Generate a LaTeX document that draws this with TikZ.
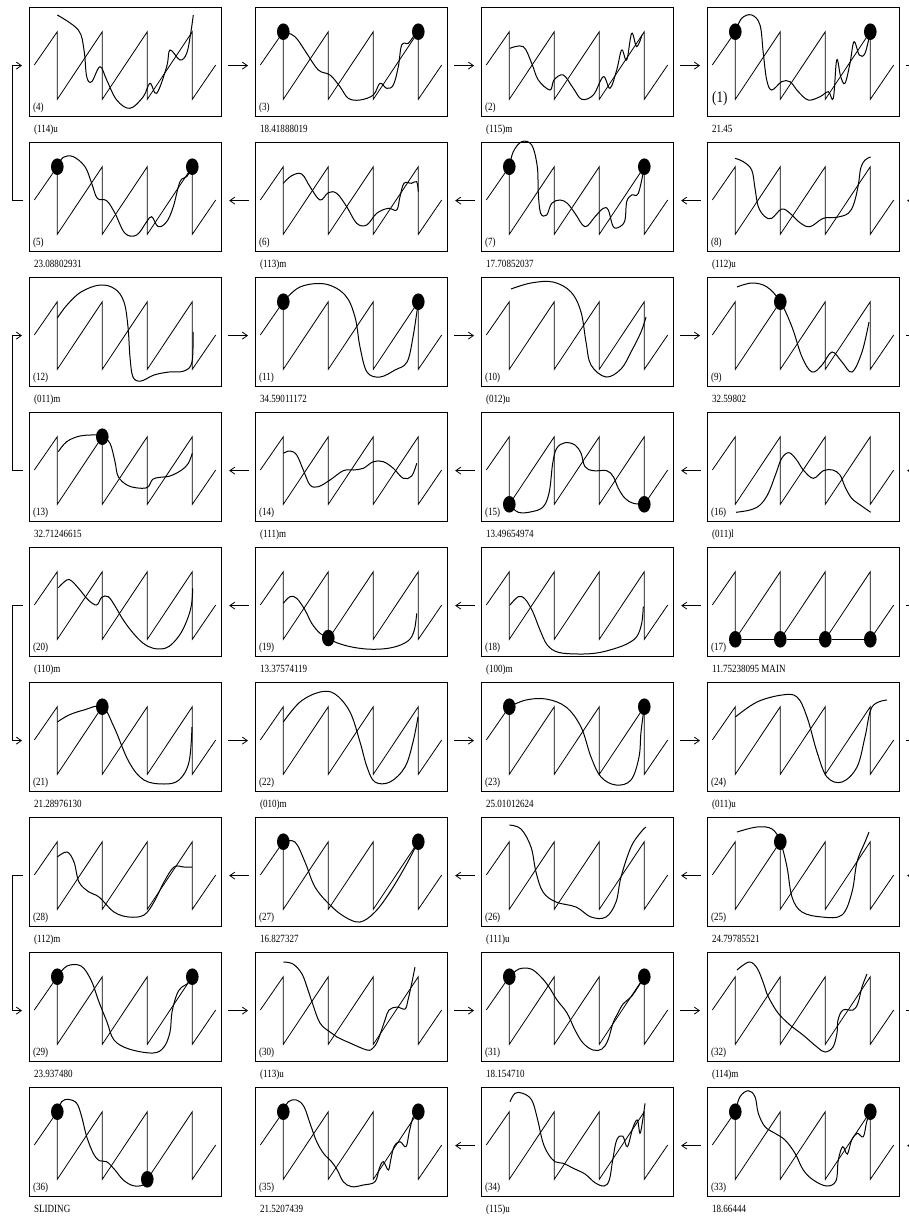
\documentclass[tikz,border=0pt]{standalone}
\usepackage{fontspec}
\setmainfont{Liberation Serif}[FakeStretch=0.82]
\usetikzlibrary{arrows.meta, shapes.geometric}

\begin{document}
\begin{tikzpicture}[
    x=1pt, y=-1pt,
    font=\fontsize{11}{12}\selectfont,
    panel/.style={draw, line width=1.2pt, anchor=north west, minimum width=192pt,
                  minimum height=109pt, inner sep=0pt},
    sawline/.style={line width=0.8pt},
    squig/.style={line width=1pt, smooth, tension=0.6},
    bead/.style={ellipse, fill=black, inner sep=0pt, minimum width=12.6pt, minimum height=16.6pt},
    tag/.style={anchor=base west, inner sep=0pt},
    capt/.style={anchor=base west, inner sep=0pt},
    ar/.style={-{Straight Barb[length=5pt,width=7pt]}, line width=0.8pt,
               shorten <=6pt, shorten >=7pt},
    link/.style={line width=0.8pt, shorten <=6pt},
    saw/.pic={\draw[sawline] (5.3,58) -- (28.3,24.7) -- (28.3,92.3) -- (73.3,24.7) -- (73.3,92.3)
              -- (118.3,24.7) -- (118.3,92.3) -- (163.3,24.7) -- (163.3,92.3) -- (186.7,58);},
  ]
  \path[use as bounding box, fill=white] (0,0) rectangle (908,1218);

  % ---------------- row 1
  \begin{scope}[shift={(29,7)}]
    \node[panel] (p4) at (0,0) {};
    \pic {saw};
    \node[tag] (n4) at (4,103) {(4)};
    \node[capt] (c4) at (5,125) {(114)u};
    \draw[squig] plot coordinates {(28.3,8) (49.3,23) (55,43) (57.7,69.7) (62.7,74.7) (71,59.7)
      (77.7,73) (87.7,93) (101,101.3) (114.3,89.7) (121,76.3) (127.7,86.3) (137.7,59.7) (141,43)
      (151,53) (157.7,46.3) (161.7,26.3) (164.3,8)};
  \end{scope}
  \begin{scope}[shift={(255,7)}]
    \node[panel] (p3) at (0,0) {};
    \pic {saw};
    \node[tag] (n3) at (4,103) {(3)};
    \node[capt] (c3) at (5,125) {18.41888019};
    \draw[squig] plot coordinates {(28.3,24.7) (40,29.7) (51.7,46.3) (63.3,63) (75,68) (85,79.7)
      (93.3,91.3) (105,93) (118.3,88) (125,76.3) (131.7,81.3) (138.3,78) (143.3,59.7) (146.7,38)
      (153.3,36.3) (158.3,29.7) (163.3,24.7)};
    \node[bead] (d3a) at (28.3,24.7) {};
    \node[bead] (d3b) at (163.3,24.7) {};
  \end{scope}
  \begin{scope}[shift={(481,7)}]
    \node[panel] (p2) at (0,0) {};
    \pic {saw};
    \node[tag] (n2) at (4,103) {(2)};
    \node[capt] (c2) at (5,125) {(115)m};
    \draw[squig] plot coordinates {(29,41.3) (42.3,39.7) (50.7,56.3) (57.3,73) (69,83) (73,73)
      (82.3,68) (92.3,81.3) (100.7,92.3) (112.3,88) (122.3,69.7) (129,81.3) (135.7,63) (140.7,43)
      (145.7,53) (150.7,26.3) (155.7,39.7) (161,28)};
  \end{scope}
  \begin{scope}[shift={(707,7)}]
    \node[panel] (p1) at (0,0) {};
    \pic {saw};
    \node[tag, font=\fontsize{16}{18}\selectfont] (n1) at (5,95) {(1)};
    \node[capt] (c1) at (5,125) {21.45};
    \draw[squig] plot coordinates {(28.3,24.7) (34.7,11.3) (44.7,8) (53,18) (56.3,46.3) (59.7,73)
      (64.7,83) (74.7,74.7) (83,74.7) (91.3,84.7) (101.3,93) (113,89.7) (121.3,84.7) (126.3,91.3)
      (129.7,53) (133.7,69.7) (138,76.3) (143,56.3) (147,34.7) (152.3,48) (158,46.3) (163.3,24.7)};
    \node[bead] (d1a) at (28.3,24.7) {};
    \node[bead] (d1b) at (163.3,24.7) {};
  \end{scope}

  % ---------------- row 2
  \begin{scope}[shift={(29,142)}]
    \node[panel] (p5) at (0,0) {};
    \pic {saw};
    \node[tag] (n5) at (4,103) {(5)};
    \node[capt] (c5) at (5,125) {23.08802931};
    \draw[squig] plot coordinates {(28.3,24.7) (34.3,15.3) (44.3,14.7) (56,24.7) (62.7,41.3)
      (68.3,56.3) (77.7,58.7) (86,71.3) (96,91.3) (107.7,93) (117.7,79.7) (122.7,74.7) (129.3,84.7)
      (137.7,79.7) (144.3,64.7) (151,39.7) (157.7,34.7) (163.3,24.7)};
    \node[bead] (d5a) at (28.3,24.7) {};
    \node[bead] (d5b) at (163.3,24.7) {};
  \end{scope}
  \begin{scope}[shift={(255,142)}]
    \node[panel] (p6) at (0,0) {};
    \pic {saw};
    \node[tag] (n6) at (4,103) {(6)};
    \node[capt] (c6) at (5,125) {(113)m};
    \draw[squig] plot coordinates {(28.3,41.3) (36.7,33.7) (46.7,32) (55,44.7) (65,58) (73.3,50.7)
      (81.7,51.3) (91.7,64.7) (101.7,81.3) (111.7,83) (121.7,71.3) (133.3,66.3) (141.7,68) (145,54.7)
      (149,41.3) (156.7,41.3) (161.7,39.7) (163.3,49.7)};
  \end{scope}
  \begin{scope}[shift={(481,142)}]
    \node[panel] (p7) at (0,0) {};
    \pic {saw};
    \node[tag] (n7) at (4,103) {(7)};
    \node[capt] (c7) at (5,125) {17.70852037};
    \draw[squig] plot coordinates {(28.3,24.7) (32.3,9.7) (40.7,-0.3) (50.7,3) (56.3,24.7)
      (57.3,51.3) (59.7,71.3) (65.7,73) (70.7,61.3) (79,58) (86.3,61.3) (94,71.3) (104,84.7)
      (114,74.7) (122.3,66.3) (127.3,68) (132.3,84.7) (139,84.7) (144,78) (145.7,59.7) (150.7,53)
      (157.3,51.3) (163.3,24.7)};
    \node[bead] (d7a) at (28.3,24.7) {};
    \node[bead] (d7b) at (163.3,24.7) {};
  \end{scope}
  \begin{scope}[shift={(707,142)}]
    \node[panel] (p8) at (0,0) {};
    \pic {saw};
    \node[tag] (n8) at (4,103) {(8)};
    \node[capt] (c8) at (5,125) {(112)u};
    \draw[squig] plot coordinates {(28,16.3) (36.3,19.7) (44.7,28) (48,46.3) (51.3,64.7) (58,74.7)
      (64.7,76.3) (74.7,67) (83,71.3) (93,80.7) (103,84.7) (116.3,76.3) (129.7,75.3) (141.3,71.3)
      (147,61.3) (151.3,43) (153.7,26.3) (158,18) (163.7,15)};
  \end{scope}

  % ---------------- row 3
  \begin{scope}[shift={(29,277)}]
    \node[panel] (p12) at (0,0) {};
    \pic {saw};
    \node[tag] (n12) at (4,103) {(12)};
    \node[capt] (c12) at (5,125) {(011)m};
    \draw[squig] plot coordinates {(28.3,41) (38,28) (52,15) (71,8) (86,12) (95,25) (99,50)
      (101,80) (104,100) (112,104) (125,98) (140,95) (155,94) (163,85) (164,55)};
  \end{scope}
  \begin{scope}[shift={(255,277)}]
    \node[panel] (p11) at (0,0) {};
    \pic {saw};
    \node[tag] (n11) at (4,103) {(11)};
    \node[capt] (c11) at (5,125) {34.59011172};
    \draw[squig] plot coordinates {(28.3,24.7) (45,10) (70,7) (90,18) (100,40) (105,70) (112,95)
      (125,100) (140,93) (152,85) (158,60) (163.3,24.7)};
    \node[bead] (d11a) at (28.3,24.7) {};
    \node[bead] (d11b) at (163.3,24.7) {};
  \end{scope}
  \begin{scope}[shift={(481,277)}]
    \node[panel] (p10) at (0,0) {};
    \pic {saw};
    \node[tag] (n10) at (4,103) {(10)};
    \node[capt] (c10) at (5,125) {(012)u};
    \draw[squig] plot coordinates {(30,12) (50,6) (72,5) (90,15) (100,35) (105,65) (110,88)
      (125,100) (140,92) (150,75) (160,55) (165,40)};
  \end{scope}
  \begin{scope}[shift={(707,277)}]
    \node[panel] (p9) at (0,0) {};
    \pic {saw};
    \node[tag] (n9) at (4,103) {(9)};
    \node[capt] (c9) at (5,125) {32.59802};
    \draw[squig] plot coordinates {(30,10) (45,6) (60,10) (73.3,24.7) (85,50) (95,80) (105,95)
      (115,88) (125,75) (135,85) (145,95) (155,75) (162,45)};
    \node[bead] (d9a) at (73.3,24.7) {};
  \end{scope}

  % ---------------- row 4
  \begin{scope}[shift={(29,412)}]
    \node[panel] (p13) at (0,0) {};
    \pic {saw};
    \node[tag] (n13) at (4,103) {(13)};
    \node[capt] (c13) at (5,125) {32.71246615};
    \draw[squig] plot coordinates {(29.3,39.7) (37.7,29.7) (51,24) (67.7,23) (73.3,24.7) (81,31.3)
      (86,49.7) (89.3,64.7) (99.3,73.7) (112.7,76.3) (119.3,74.7) (123.7,67.3) (131,65.3) (141,64)
      (152.7,58) (159.3,51.3) (163.3,41.3)};
    \node[bead] (d13a) at (73.3,24.7) {};
  \end{scope}
  \begin{scope}[shift={(255,412)}]
    \node[panel] (p14) at (0,0) {};
    \pic {saw};
    \node[tag] (n14) at (4,103) {(14)};
    \node[capt] (c14) at (5,125) {(111)m};
    \draw[squig] plot coordinates {(28.3,41.3) (35,39) (41.7,43) (48.3,58) (55,73) (63.3,74.7)
      (75,68) (88.3,58.7) (98.3,58) (108.3,56.3) (118.3,49.7) (128.3,49.7) (138.3,56.3) (148.3,66.3)
      (156.7,64) (161.7,51.3)};
  \end{scope}
  \begin{scope}[shift={(481,412)}]
    \node[panel] (p15) at (0,0) {};
    \pic {saw};
    \node[tag] (n15) at (4,103) {(15)};
    \node[capt] (c15) at (5,125) {13.49654974};
    \draw[squig] plot coordinates {(28.3,92.3) (37.3,100.3) (50.7,99.7) (62.3,94.7) (68.3,79.7)
      (71.7,51.3) (75.7,36.3) (84,30.7) (94,33) (100,41.3) (104,54.7) (112.3,58.7) (125.7,58.7)
      (132.3,64.7) (137.3,76.3) (144,86.3) (152.3,91.3) (163.3,92.3)};
    \node[bead] (d15a) at (28.3,92.3) {};
    \node[bead] (d15b) at (163.3,92.3) {};
  \end{scope}
  \begin{scope}[shift={(707,412)}]
    \node[panel] (p16) at (0,0) {};
    \pic {saw};
    \node[tag] (n16) at (4,103) {(16)};
    \node[capt] (c16) at (5,125) {(011)l};
    \draw[squig] plot coordinates {(29,100.3) (43,98) (53,93) (61.3,81.3) (69,61.3) (74.7,46.3)
      (82,40.7) (89.7,48) (96.3,58) (106.3,66.3) (116.3,58.7) (125.7,58) (133,63) (138,74.7)
      (144.7,86.3) (154.7,94) (163.7,100.3)};
  \end{scope}

  % ---------------- row 5
  \begin{scope}[shift={(29,547)}]
    \node[panel] (p20) at (0,0) {};
    \pic {saw};
    \node[tag] (n20) at (4,103) {(20)};
    \node[capt] (c20) at (5,125) {(110)m};
    \draw[squig] plot coordinates {(29.3,40.7) (37.7,33) (42.7,34) (51,43) (59.3,53) (67.7,58)
      (72.7,50.3) (79.3,49.7) (86,59) (94.3,73) (104.3,86.3) (114.3,96.3) (124.3,101.3) (136,101.3)
      (144.3,95.7) (152.7,84.7) (159.3,69.7) (162.7,56.3) (163.7,41.3)};
  \end{scope}
  \begin{scope}[shift={(255,547)}]
    \node[panel] (p19) at (0,0) {};
    \pic {saw};
    \node[tag] (n19) at (4,103) {(19)};
    \node[capt] (c19) at (5,125) {13.37574119};
    \draw[squig] plot coordinates {(28.3,56.3) (35,49.7) (41.7,51.3) (50,63) (56.7,76.3) (65,86.3)
      (73.3,91) (81.7,95.7) (98.3,100.3) (118.3,102.3) (138.3,100.3) (153.3,93.7) (159.3,83)
      (161.7,66.3)};
    \node[bead] (d19a) at (73.3,91) {};
  \end{scope}
  \begin{scope}[shift={(481,547)}]
    \node[panel] (p18) at (0,0) {};
    \pic {saw};
    \node[tag] (n18) at (4,103) {(18)};
    \node[capt] (c18) at (5,125) {(100)m};
    \draw[squig] plot coordinates {(29,58) (37.3,49.7) (44,52) (51.7,64.7) (59,83) (66.3,98)
      (77.3,105.3) (97.3,107) (115.7,106) (132.3,102) (145.7,97) (155.7,89.7) (160.7,76.3)
      (162.3,59.7)};
  \end{scope}
  \begin{scope}[shift={(707,547)}]
    \node[panel] (p17) at (0,0) {};
    \pic {saw};
    \node[tag] (n17) at (4,103) {(17)};
    \node[capt] (c17) at (5,125) {11.75238095 MAIN};
    \node[bead] (d17a) at (28.3,92.3) {};
    \node[bead] (d17b) at (73.3,92.3) {};
    \node[bead] (d17c) at (118.3,92.3) {};
    \node[bead] (d17d) at (163.3,92.3) {};
    \draw[line width=1pt] (d17a) -- (d17b) -- (d17c) -- (d17d);
  \end{scope}

  % ---------------- row 6
  \begin{scope}[shift={(29,682)}]
    \node[panel] (p21) at (0,0) {};
    \pic {saw};
    \node[tag] (n21) at (4,103) {(21)};
    \node[capt] (c21) at (5,125) {21.28976130};
    \draw[squig] plot coordinates {(28.3,40) (40,33) (55,28) (73.3,24.7) (85,45) (100,80) (115,98)
      (135,102) (150,98) (160,80) (163,45)};
    \node[bead] (d21a) at (73.3,24.7) {};
  \end{scope}
  \begin{scope}[shift={(255,682)}]
    \node[panel] (p22) at (0,0) {};
    \pic {saw};
    \node[tag] (n22) at (4,103) {(22)};
    \node[capt] (c22) at (5,125) {(010)m};
    \draw[squig] plot coordinates {(28.3,40) (45,20) (65,10) (80,12) (95,30) (105,60) (112,85)
      (120,100) (135,100) (150,85) (158,60) (163,35)};
  \end{scope}
  \begin{scope}[shift={(481,682)}]
    \node[panel] (p23) at (0,0) {};
    \pic {saw};
    \node[tag] (n23) at (4,103) {(23)};
    \node[capt] (c23) at (5,125) {25.01012624};
    \draw[squig] plot coordinates {(28.3,24.7) (45,18) (65,17) (85,25) (100,45) (110,75) (120,95)
      (135,103) (150,98) (158,75) (160,50) (163.3,24.7)};
    \node[bead] (d23a) at (28.3,24.7) {};
    \node[bead] (d23b) at (163.3,24.7) {};
  \end{scope}
  \begin{scope}[shift={(707,682)}]
    \node[panel] (p24) at (0,0) {};
    \pic {saw};
    \node[tag] (n24) at (4,103) {(24)};
    \node[capt] (c24) at (5,125) {(011)u};
    \draw[squig] plot coordinates {(28.3,35) (50,20) (75,13) (90,15) (100,35) (110,70) (120,95)
      (135,100) (150,85) (158,55) (165,25) (180,18)};
  \end{scope}

  % ---------------- row 7
  \begin{scope}[shift={(29,817)}]
    \node[panel] (p28) at (0,0) {};
    \pic {saw};
    \node[tag] (n28) at (4,103) {(28)};
    \node[capt] (c28) at (5,125) {(112)m};
    \draw[squig] plot coordinates {(28.3,40) (38,35) (45,45) (50,65) (60,75) (70,80) (85,95)
      (100,100) (115,98) (125,85) (135,65) (145,50) (155,50) (163,50)};
  \end{scope}
  \begin{scope}[shift={(255,817)}]
    \node[panel] (p27) at (0,0) {};
    \pic {saw};
    \node[tag] (n27) at (4,103) {(27)};
    \node[capt] (c27) at (5,125) {16.827327};
    \draw[squig] plot coordinates {(28.3,24.7) (40,25) (50,45) (60,70) (75,88) (90,100) (105,105)
      (120,95) (135,75) (150,50) (163.3,24.7)};
    \node[bead] (d27a) at (28.3,24.7) {};
    \node[bead] (d27b) at (163.3,24.7) {};
  \end{scope}
  \begin{scope}[shift={(481,817)}]
    \node[panel] (p26) at (0,0) {};
    \pic {saw};
    \node[tag] (n26) at (4,103) {(26)};
    \node[capt] (c26) at (5,125) {(111)u};
    \draw[squig] plot coordinates {(28.3,8) (40,12) (50,30) (55,55) (62,75) (75,85) (95,90)
      (110,100) (125,100) (135,85) (140,60) (150,30) (160,15) (165,10)};
  \end{scope}
  \begin{scope}[shift={(707,817)}]
    \node[panel] (p25) at (0,0) {};
    \pic {saw};
    \node[tag] (n25) at (4,103) {(25)};
    \node[capt] (c25) at (5,125) {24.79785521};
    \draw[squig] plot coordinates {(30,15) (50,10) (65,12) (73.3,24.7) (80,50) (85,80) (95,95)
      (115,100) (135,98) (145,75) (150,45) (158,25) (162,15)};
    \node[bead] (d25a) at (73.3,24.7) {};
  \end{scope}

  % ---------------- row 8
  \begin{scope}[shift={(29,952)}]
    \node[panel] (p29) at (0,0) {};
    \pic {saw};
    \node[tag] (n29) at (4,103) {(29)};
    \node[capt] (c29) at (5,125) {23.937480};
    \draw[squig] plot coordinates {(28.3,24.7) (38,14) (52,14) (62,28) (70,50) (78,70) (85,88)
      (100,97) (124,101) (135,95) (141,80) (143,60) (148,42) (153,35) (158,32) (163.3,24.7)};
    \node[bead] (d29a) at (28.3,24.7) {};
    \node[bead] (d29b) at (163.3,24.7) {};
  \end{scope}
  \begin{scope}[shift={(255,952)}]
    \node[panel] (p30) at (0,0) {};
    \pic {saw};
    \node[tag] (n30) at (4,103) {(30)};
    \node[capt] (c30) at (5,125) {(113)u};
    \draw[squig] plot coordinates {(28.3,10) (38,12) (47,22) (53,38) (57,50) (65,71) (75,80)
      (82,85) (95,91) (112,98) (118,96) (123,88) (130,68) (134,58) (142,55) (150,57) (153,48)
      (157,30) (160,15)};
  \end{scope}
  \begin{scope}[shift={(481,952)}]
    \node[panel] (p31) at (0,0) {};
    \pic {saw};
    \node[tag] (n31) at (4,103) {(31)};
    \node[capt] (c31) at (5,125) {18.154710};
    \draw[squig] plot coordinates {(28.3,24.7) (38,17) (50,17) (60,25) (68,35) (76,48) (86,61)
      (94,78) (102,91) (112,98) (121,97) (127,88) (132,71) (137,61) (142,52) (150,45) (157,35)
      (163.3,24.7)};
    \node[bead] (d31a) at (28.3,24.7) {};
    \node[bead] (d31b) at (163.3,24.7) {};
  \end{scope}
  \begin{scope}[shift={(707,952)}]
    \node[panel] (p32) at (0,0) {};
    \pic {saw};
    \node[tag] (n32) at (4,103) {(32)};
    \node[capt] (c32) at (5,125) {(114)m};
    \draw[squig] plot coordinates {(30,18) (42,10) (50,16) (56,30) (60,42) (63,48) (71,61) (83,73)
      (96,83) (110,95) (118,100) (126,95) (130,81) (131,68) (136,58) (146,58) (151,51) (155,35)
      (160,22)};
  \end{scope}

  % ---------------- row 9
  \begin{scope}[shift={(29,1087)}]
    \node[panel] (p36) at (0,0) {};
    \pic {saw};
    \node[tag] (n36) at (4,103) {(36)};
    \node[capt] (c36) at (5,125) {SLIDING};
    \draw[squig] plot coordinates {(28.3,24.7) (32.7,14.7) (39.3,12.3) (47.7,16.3) (52.7,29.7)
      (57.7,49.7) (64.3,66.3) (70.3,73.7) (77.7,74.7) (86,83) (94.3,93) (104.3,98.7) (114.3,98)
      (118.3,92.3)};
    \node[bead] (d36a) at (28.3,24.7) {};
    \node[bead] (d36b) at (118.3,92.3) {};
  \end{scope}
  \begin{scope}[shift={(255,1087)}]
    \node[panel] (p35) at (0,0) {};
    \pic {saw};
    \node[tag] (n35) at (4,103) {(35)};
    \node[capt] (c35) at (5,125) {21.5207439};
    \draw[squig] plot coordinates {(28.3,24.7) (33.3,14.7) (41.7,13) (49,19.7) (55,36.3) (61.7,54.7)
      (69,67) (75.7,73.7) (82.3,83) (88.3,94.7) (96.7,99.7) (108.3,98) (120,94.7) (124.3,81.3)
      (128.3,74.7) (133.3,83) (135.7,73) (139,59.7) (145,54.7) (151,59.7) (154.3,44.7) (158.3,29.7)
      (163.3,24.7)};
    \node[bead] (d35a) at (28.3,24.7) {};
    \node[bead] (d35b) at (163.3,24.7) {};
  \end{scope}
  \begin{scope}[shift={(481,1087)}]
    \node[panel] (p34) at (0,0) {};
    \pic {saw};
    \node[tag] (n34) at (4,103) {(34)};
    \node[capt] (c34) at (5,125) {(115)u};
    \draw[squig] plot coordinates {(29,14.7) (34,6.3) (41.7,6.3) (50.7,13) (56.3,31.3) (61.7,54.7)
      (67.3,67) (74,74.7) (82.3,76.3) (92.3,81.3) (104,87) (114,95.7) (123,99) (128.3,93) (131.7,73)
      (135.7,53) (141.7,49) (146.3,59.7) (151.7,41.3) (156.3,33) (159,46.3) (161.7,33) (164,16.3)};
  \end{scope}
  \begin{scope}[shift={(707,1087)}]
    \node[panel] (p33) at (0,0) {};
    \pic {saw};
    \node[tag] (n33) at (4,103) {(33)};
    \node[capt] (c33) at (5,125) {18.66444};
    \draw[squig] plot coordinates {(28.3,24.7) (33,9.7) (41.3,3.7) (48,9.7) (51.3,26.3) (58,39.7)
      (68,46.3) (78,53) (88,66.3) (96.3,83) (106.3,93) (119.7,99) (129,93.7) (131.3,73) (135.7,59.7)
      (140.3,67) (144.7,53) (150.3,46.3) (156.3,49.7) (159.7,34.7) (163.3,24.7)};
    \node[bead] (d33a) at (28.3,24.7) {};
    \node[bead] (d33b) at (163.3,24.7) {};
  \end{scope}

  % ---------------- arrows along the rows
  \draw[ar] ([yshift=-3.5pt]p4.east) -- ([yshift=-3.5pt]p3.west);
  \draw[ar] ([yshift=-3.5pt]p3.east) -- ([yshift=-3.5pt]p2.west);
  \draw[ar] ([yshift=-3.5pt]p2.east) -- ([yshift=-3.5pt]p1.west);
  \draw[ar] ([yshift=-3.5pt]p8.west) -- ([yshift=-3.5pt]p7.east);
  \draw[ar] ([yshift=-3.5pt]p7.west) -- ([yshift=-3.5pt]p6.east);
  \draw[ar] ([yshift=-3.5pt]p6.west) -- ([yshift=-3.5pt]p5.east);
  \draw[ar] ([yshift=-3.5pt]p12.east) -- ([yshift=-3.5pt]p11.west);
  \draw[ar] ([yshift=-3.5pt]p11.east) -- ([yshift=-3.5pt]p10.west);
  \draw[ar] ([yshift=-3.5pt]p10.east) -- ([yshift=-3.5pt]p9.west);
  \draw[ar] ([yshift=-3.5pt]p16.west) -- ([yshift=-3.5pt]p15.east);
  \draw[ar] ([yshift=-3.5pt]p15.west) -- ([yshift=-3.5pt]p14.east);
  \draw[ar] ([yshift=-3.5pt]p14.west) -- ([yshift=-3.5pt]p13.east);
  \draw[ar] ([yshift=-3.5pt]p17.west) -- ([yshift=-3.5pt]p18.east);
  \draw[ar] ([yshift=-3.5pt]p18.west) -- ([yshift=-3.5pt]p19.east);
  \draw[ar] ([yshift=-3.5pt]p19.west) -- ([yshift=-3.5pt]p20.east);
  \draw[ar] ([yshift=-3.5pt]p21.east) -- ([yshift=-3.5pt]p22.west);
  \draw[ar] ([yshift=-3.5pt]p22.east) -- ([yshift=-3.5pt]p23.west);
  \draw[ar] ([yshift=-3.5pt]p23.east) -- ([yshift=-3.5pt]p24.west);
  \draw[ar] ([yshift=-3.5pt]p25.west) -- ([yshift=-3.5pt]p26.east);
  \draw[ar] ([yshift=-3.5pt]p26.west) -- ([yshift=-3.5pt]p27.east);
  \draw[ar] ([yshift=-3.5pt]p27.west) -- ([yshift=-3.5pt]p28.east);
  \draw[ar] ([yshift=-3.5pt]p29.east) -- ([yshift=-3.5pt]p30.west);
  \draw[ar] ([yshift=-3.5pt]p30.east) -- ([yshift=-3.5pt]p31.west);
  \draw[ar] ([yshift=-3.5pt]p31.east) -- ([yshift=-3.5pt]p32.west);
  \draw[ar] ([yshift=-3.5pt]p33.west) -- ([yshift=-3.5pt]p34.east);
  \draw[ar] ([yshift=-3.5pt]p34.west) -- ([yshift=-3.5pt]p35.east);

  % ---------------- turns on the left
  \draw[ar] ([yshift=-3.5pt]p5.west) -- ++(-17,0) |- ([yshift=-3.5pt]p4.west);
  \draw[ar] ([yshift=-3.5pt]p13.west) -- ++(-17,0) |- ([yshift=-3.5pt]p12.west);
  \draw[ar] ([yshift=-3.5pt]p20.west) -- ++(-17,0) |- ([yshift=-3.5pt]p21.west);
  \draw[ar] ([yshift=-3.5pt]p28.west) -- ++(-17,0) |- ([yshift=-3.5pt]p29.west);

  % ---------------- turns on the right (run off the page)
  \coordinate (exit) at (930,65);
  \draw[link] ([yshift=-3.5pt]p1.east) -- (exit);
  \draw[ar] ([yshift=-3.5pt]p9.east) -- ++(17,0) |- ([yshift=-3.5pt]p8.east);
  \draw[ar] ([yshift=-3.5pt]p17.east) -- ++(17,0) |- ([yshift=-3.5pt]p16.east);
  \draw[ar] ([yshift=-3.5pt]p24.east) -- ++(17,0) |- ([yshift=-3.5pt]p25.east);
  \draw[ar] ([yshift=-3.5pt]p32.east) -- ++(17,0) |- ([yshift=-3.5pt]p33.east);
\end{tikzpicture}
\end{document}
